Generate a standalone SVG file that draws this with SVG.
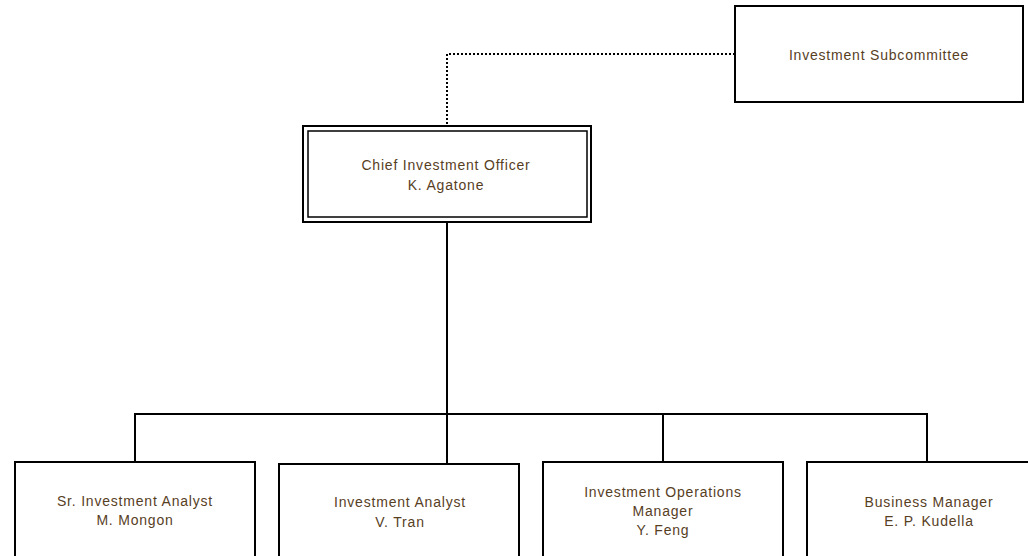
<svg xmlns="http://www.w3.org/2000/svg" width="1028" height="556" viewBox="0 0 1028 556">
<style>
.box{fill:#fff;stroke:#000;stroke-width:2}
.inner{fill:none;stroke:#000;stroke-width:1.5}
.t{font-family:"Liberation Sans",Arial,sans-serif;font-size:14px;fill:#57401f;text-anchor:middle;letter-spacing:0.8px}
.c{fill:none;stroke:#000;stroke-width:2}
.d{fill:none;stroke:#000;stroke-width:2;stroke-dasharray:2 2}
</style>
<rect width="1028" height="556" fill="#fff"/>
<g id="connectors">
<path class="d" d="M735 54 H447 V126"/>
<path class="c" d="M447 222 V414"/>
<path class="c" d="M135 462 V414 H927 V462"/>
<path class="c" d="M447 414 V463"/>
<path class="c" d="M663 414 V462"/>
</g>
<g id="subcommittee">
<rect class="box" x="735" y="6" width="288" height="96"/>
<text class="t" x="879" y="59.5">Investment Subcommittee</text>
</g>
<g id="cio">
<rect class="box" x="303" y="126" width="288" height="96"/>
<rect class="inner" x="308" y="131" width="279" height="86"/>
<text class="t" x="446" y="170">Chief Investment Officer</text>
<text class="t" x="446" y="190">K. Agatone</text>
</g>
<g id="sr-analyst">
<rect class="box" x="15" y="462" width="240" height="110"/>
<text class="t" x="135" y="505.5">Sr. Investment Analyst</text>
<text class="t" x="135" y="524.5">M. Mongon</text>
</g>
<g id="analyst">
<rect class="box" x="279" y="464" width="240" height="110"/>
<text class="t" x="400" y="506.5">Investment Analyst</text>
<text class="t" x="400" y="526.5">V. Tran</text>
</g>
<g id="ops-manager">
<rect class="box" x="543" y="462" width="240" height="110"/>
<text class="t" x="663" y="496.5">Investment Operations</text>
<text class="t" x="663" y="516">Manager</text>
<text class="t" x="663" y="535">Y. Feng</text>
</g>
<g id="business-manager">
<rect class="box" x="807" y="462" width="240" height="110"/>
<text class="t" x="929" y="506.5">Business Manager</text>
<text class="t" x="929" y="525.5">E. P. Kudella</text>
</g>
</svg>
